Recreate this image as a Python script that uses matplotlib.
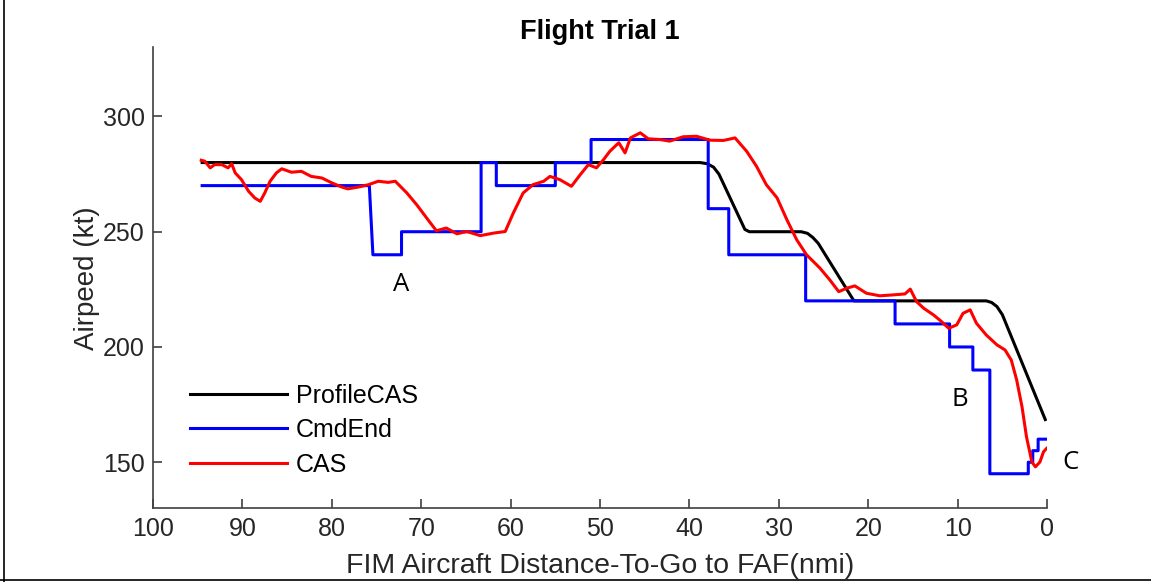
"""Flight Trial 1: profile, commanded and measured airspeed vs distance-to-go."""

import matplotlib

matplotlib.use("Agg")
import matplotlib.pyplot as plt
from matplotlib.lines import Line2D

# ProfileCAS (black)
profile_dist = [94.5, 38.8, 38.0, 37.3, 36.7, 33.8, 33.3, 27.5, 26.8, 26.2, 25.6,
                21.6, 6.8, 6.2, 5.6, 5.0, 0.2]
profile_kt = [280, 280, 279.5, 278, 275, 251, 250, 250, 249.3, 247.5, 245,
              220, 220, 219.3, 217.5, 214, 168.5]

# CmdEnd (blue), stepwise
cmd_dist = [94.5, 75.8, 75.4, 72.2, 72.2, 63.3, 63.3, 61.6, 61.6, 55.0, 55.0,
            51.0, 51.0, 37.9, 37.9, 35.6, 35.6, 27.0, 27.0, 17.0, 17.0, 10.9,
            10.9, 8.3, 8.3, 6.4, 6.4, 2.1, 2.1, 1.6, 1.6, 1.0, 1.0, 0.05]
cmd_kt = [270, 270, 240, 240, 250, 250, 280, 280, 270, 270, 280,
          280, 290, 290, 260, 260, 240, 240, 220, 220, 210, 210,
          200, 200, 190, 190, 145, 145, 150, 150, 155, 155, 160, 160]

# CAS (red), measured
cas_dist = [94.6, 94.2, 93.6, 93.1, 92.3, 91.6, 91.2, 90.8, 90.1, 89.3, 88.6,
            88.0, 87.5, 86.9, 86.2, 85.6, 84.5, 83.4, 82.3, 81.1, 80.0, 78.9,
            78.2, 77.0, 75.9, 74.8, 73.7, 72.9, 71.6, 70.5, 69.4, 68.3, 67.2,
            66.0, 64.9, 63.4, 61.9, 60.6, 59.7, 58.6, 57.5, 56.3, 55.6, 54.5,
            53.2, 52.2, 51.3, 50.4, 49.6, 48.9, 47.9, 47.2, 46.6, 45.5, 44.6,
            43.3, 42.2, 40.7, 39.2, 37.7, 36.2, 34.9, 33.6, 32.5, 31.4, 30.2,
            29.1, 28.0, 26.9, 25.4, 24.3, 23.3, 22.4, 21.5, 20.2, 18.7, 17.2,
            15.9, 15.3, 14.6, 13.8, 12.7, 11.8, 11.0, 10.1, 9.4, 8.6, 7.9,
            6.8, 5.6, 4.7, 4.0, 3.4, 2.8, 2.3, 1.7, 1.3, 0.8, 0.4, 0.05]
cas_kt = [281.0, 280.6, 277.7, 279.1, 279.1, 277.7, 279.5, 275.5, 272.6, 267.5, 264.6,
          263.2, 266.8, 271.9, 275.5, 277.3, 275.8, 276.2, 274.0, 273.3, 271.2, 269.4,
          268.6, 269.4, 270.4, 271.9, 271.4, 271.9, 266.8, 261.7, 256.0, 250.4, 251.6,
          249.1, 250.1, 248.3, 249.4, 250.1, 258.1, 266.8, 270.4, 271.9, 274.0, 272.6,
          269.7, 274.8, 279.1, 277.7, 281.3, 284.9, 288.6, 284.2, 290.7, 292.9, 290.3,
          290.0, 289.3, 291.2, 291.4, 289.7, 289.6, 290.7, 284.9, 278.4, 270.4, 264.7,
          255.2, 246.5, 240.0, 234.2, 229.1, 224.0, 225.5, 226.5, 223.3, 222.2, 222.6,
          223.0, 225.1, 219.7, 216.8, 213.9, 211.0, 208.1, 209.6, 214.6, 216.1, 210.3,
          205.2, 200.9, 198.7, 194.3, 185.7, 174.0, 161.0, 150.1, 148.0, 150.1, 154.5, 156.0]

X_TICKS = [100, 90, 80, 70, 60, 50, 40, 30, 20, 10, 0]
Y_TICKS = [150, 200, 250, 300]

# (label, distance, airspeed) for the event markers
EVENT_LABELS = [("A", 72.3, 227.0), ("B", 9.8, 177.0), ("C", -2.6, 150.0)]

FONT = ["Liberation Sans", "DejaVu Sans"]
AXIS_GREY = "#404040"
TEXT_GREY = "#262626"
LW = 2.2

plt.rcParams["font.family"] = FONT

fig = plt.figure(figsize=(11.51, 5.82), dpi=100)
ax = fig.add_axes([0.1329, 0.1266, 0.7768, 0.7921])

ax.plot(profile_dist, profile_kt, color="black", linewidth=LW, label="ProfileCAS")
ax.plot(cmd_dist, cmd_kt, color="#0000ff", linewidth=LW, label="CmdEnd")
ax.plot(cas_dist, cas_kt, color="#ff0000", linewidth=LW, label="CAS")

ax.set_xlim(100, 0)
ax.set_ylim(130, 330)
ax.set_xticks(X_TICKS)
ax.set_yticks(Y_TICKS)

for spine in ("top", "right"):
    ax.spines[spine].set_visible(False)
for spine in ("bottom", "left"):
    ax.spines[spine].set_color(AXIS_GREY)
    ax.spines[spine].set_linewidth(1.2)
ax.tick_params(direction="in", length=6.5, width=1.2, colors=AXIS_GREY,
               labelsize=18, labelcolor=TEXT_GREY, pad=6)

ax.set_title("Flight Trial 1", fontsize=19.5, fontweight="bold", pad=6)
ax.set_xlabel("FIM Aircraft Distance-To-Go to FAF(nmi)", fontsize=20.5,
              color=TEXT_GREY, labelpad=9)
ax.set_ylabel("Airpeed (kt)", fontsize=20, color=TEXT_GREY, labelpad=2)

for text, x, y in EVENT_LABELS:
    ax.text(x, y, text, fontsize=18.5, family=["Open Sans", "DejaVu Sans"],
            ha="center", va="center", clip_on=False)

ax.legend(loc="lower left", bbox_to_anchor=(0.041, 0.069), frameon=False,
          fontsize=18, handlelength=3.9, handletextpad=0.35, labelspacing=0.42,
          borderpad=0, borderaxespad=0)

# thin frame on the left and bottom edges of the picture
fig.add_artist(Line2D([0.0035, 0.0035], [0.0, 1.0], transform=fig.transFigure,
                      color="black", linewidth=1.2))
fig.add_artist(Line2D([0.0, 1.0], [0.003, 0.003], transform=fig.transFigure,
                      color="black", linewidth=1.2))

fig.savefig("out.png", dpi=100, facecolor="white")
